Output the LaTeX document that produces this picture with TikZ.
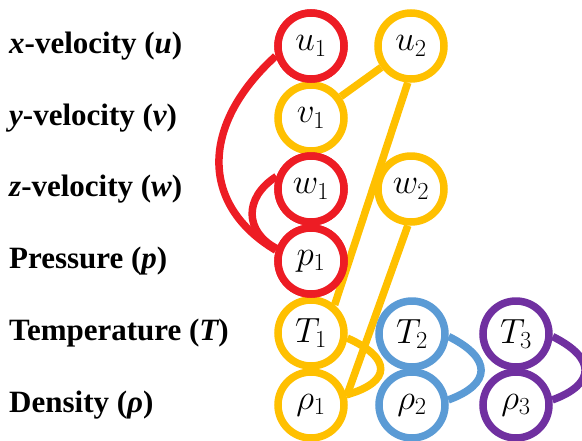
\RequirePackage{fix-cm}
\documentclass[tikz,border=0pt]{standalone}
\usepackage{fontspec}
\newfontfamily\labfont{Liberation Serif}
\definecolor{cred}{RGB}{237,28,36}
\definecolor{cyel}{RGB}{255,192,0}
\definecolor{cblue}{RGB}{91,155,213}
\definecolor{cpurp}{RGB}{112,48,160}
\newcommand{\bi}[1]{{\bfseries\itshape #1}}
\begin{document}
\begin{tikzpicture}[x=1pt,y=-1pt,
  var/.style={circle, draw, fill=white, line width=7.5pt, minimum size=66pt, inner sep=0pt, font=\fontsize{35}{40}\selectfont},
  rowlab/.style={anchor=west, inner sep=0pt, font=\labfont\bfseries\fontsize{31}{36}\selectfont},
  link/.style={line width=7.5pt}]
\useasboundingbox (0,0) rectangle (582,440);
\clip (0,0) rectangle (582,440);
% row labels
\node[rowlab] (lx) at (9,46) {\bi{x}-velocity (\bi{u})};
\node[rowlab] (ly) at (9,118) {\bi{y}-velocity (\bi{v})};
\node[rowlab] (lz) at (9,189) {\bi{z}-velocity (\bi{w})};
\node[rowlab] (lp) at (9,261) {Pressure (\bi{p})};
\node[rowlab] (lT) at (9,333) {Temperature (\bi{T})};
\node[rowlab] (lr) at (9,405) {Density (\bi{ρ})};
% centre positions
\coordinate (cu1) at (311,46);
\coordinate (cv1) at (311,118);
\coordinate (cw1) at (311,189);
\coordinate (cp1) at (311,261);
\coordinate (cT1) at (311,333);
\coordinate (cr1) at (311,405);
\coordinate (cu2) at (411,46);
\coordinate (cw2) at (411,189);
\coordinate (cT2) at (412,334);
\coordinate (cr2) at (412,405);
\coordinate (cT3) at (516,334);
\coordinate (cr3) at (516,405);
% yellow circles
\node[var, draw=cyel] (v1) at (cv1) {$v_1$};
\node[var, draw=cyel] (T1) at (cT1) {$T_1$};
\node[var, draw=cyel] (r1) at (cr1) {$\rho_1$};
\node[var, draw=cyel] (u2) at (cu2) {$u_2$};
\node[var, draw=cyel] (w2) at (cw2) {$w_2$};
% yellow connectors
\draw[link, cyel] (v1) -- (u2);
\draw[link, cyel] (u2.265) -- (T1.50);
\draw[link, cyel] (w2.265) -- (r1.14);
\draw[link, cyel] (T1.-8) .. controls (392,358) and (392,382) .. (r1.16);
% red circles
\node[var, draw=cred] (u1) at (cu1) {$u_1$};
\node[var, draw=cred] (w1) at (cw1) {$w_1$};
\node[var, draw=cred] (p1) at (cp1) {$p_1$};
\draw[link, cred] (u1.196) .. controls (200,125) and (200,205) .. (p1.163);
\draw[link, cred] (w1.160) .. controls (243,198) and (245,232) .. (p1.160);
% blue
\node[var, draw=cblue] (T2) at (cT2) {$T_2$};
\node[var, draw=cblue] (r2) at (cr2) {$\rho_2$};
\draw[link, cblue] (T2.-4) .. controls (492,358) and (492,384) .. (r2.8);
% purple
\node[var, draw=cpurp] (T3) at (cT3) {$T_3$};
\node[var, draw=cpurp] (r3) at (cr3) {$\rho_3$};
\draw[link, cpurp] (T3.-4) .. controls (596,358) and (596,384) .. (r3.8);
% redraw red circles over yellow neighbours
\node[var, draw=cred] at (cu1) {$u_1$};
\node[var, draw=cred] at (cw1) {$w_1$};
\node[var, draw=cred] at (cp1) {$p_1$};
\end{tikzpicture}
\end{document}
